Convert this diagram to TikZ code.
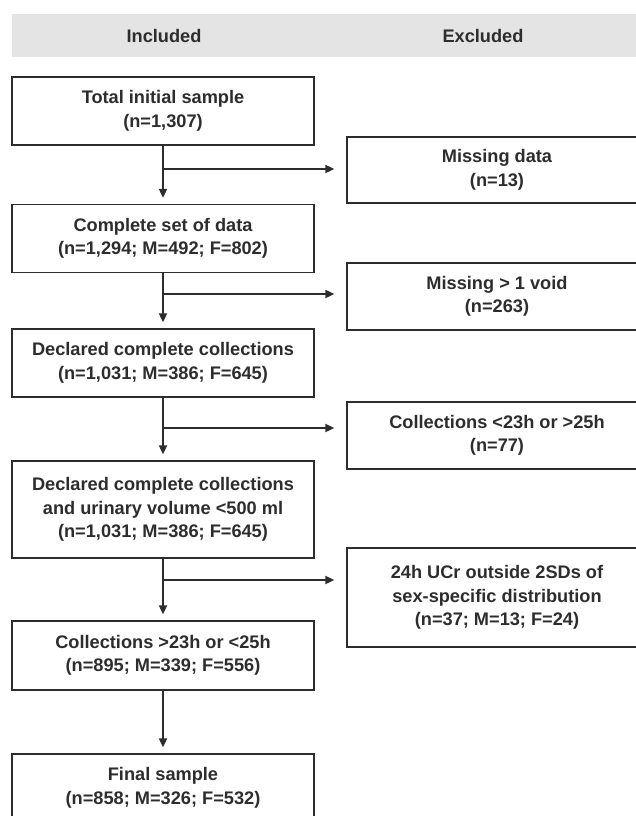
\documentclass[tikz,border=0pt]{standalone}
\usepackage{fontspec}
\setmainfont{Liberation Sans}
\usetikzlibrary{arrows.meta}
\definecolor{ink}{RGB}{45,45,45}
\definecolor{band}{RGB}{228,228,228}
\tikzset{
  box/.style={draw=ink, line width=1.3pt, fill=white, align=center, text=ink,
    font=\bfseries\fontsize{18.2}{23.5}\selectfont, inner sep=0pt},
  lbox/.style={box, minimum width=302pt},
  rbox/.style={box, minimum width=300pt},
  arr/.style={draw=ink, line width=1.8pt, -{Triangle[length=9pt,width=8pt]}},
  hdr/.style={text=ink, font=\bfseries\fontsize{18.2}{22}\selectfont}
}
\begin{document}
\begin{tikzpicture}[x=1pt,y=-1pt]
\useasboundingbox (0,0) rectangle (636,816);
\begin{scope}
\clip (0,0) rectangle (636,816);
\fill[band] (12,14) rectangle (640,57);
\node[hdr] (hin) at (164,36) {Included};
\node[hdr] (hex) at (483,36) {Excluded};

\node[lbox, minimum height=68pt] (b1) at (163,111) {Total initial sample\\(n=1,307)};
\node[lbox, minimum height=68pt] (b2) at (163,238.5) {Complete set of data\\(n=1,294; M=492; F=802)};
\node[lbox, minimum height=68pt] (b3) at (163,363) {Declared complete collections\\(n=1,031; M=386; F=645)};
\node[lbox, minimum height=97pt] (b4) at (163,509.5) {Declared complete collections\\and urinary volume <500 ml\\(n=1,031; M=386; F=645)};
\node[lbox, minimum height=69pt] (b5) at (163,655.5) {Collections >23h or <25h\\(n=895; M=339; F=556)};
\node[lbox, minimum height=68pt] (b6) at (163,788) {Final sample\\(n=858; M=326; F=532)};

\node[rbox, minimum height=66pt] (r1) at (497,170) {Missing data\\(n=13)};
\node[rbox, minimum height=67pt] (r2) at (497,296.5) {Missing > 1 void\\(n=263)};
\node[rbox, minimum height=67pt] (r3) at (497,435.5) {Collections <23h or >25h\\(n=77)};
\node[rbox, minimum height=99pt] (r4) at (497,597.5) {24h UCr outside 2SDs of\\sex-specific distribution\\(n=37; M=13; F=24)};

\draw[arr, shorten >=6pt] (b1) -- (b2);
\draw[arr, shorten >=6pt] (b2) -- (b3);
\draw[arr, shorten >=6pt] (b3) -- (b4);
\draw[arr, shorten >=6pt] (b4) -- (b5);
\draw[arr, shorten >=6pt] (b5) -- (b6);

\coordinate (j1) at (163,169);
\coordinate (j2) at (163,294);
\coordinate (j3) at (163,428);
\coordinate (j4) at (163,580);
\draw[arr, shorten >=12pt] (j1) -- (j1 -| r1.west);
\draw[arr, shorten >=12pt] (j2) -- (j2 -| r2.west);
\draw[arr, shorten >=12pt] (j3) -- (j3 -| r3.west);
\draw[arr, shorten >=12pt] (j4) -- (j4 -| r4.west);
\end{scope}
\end{tikzpicture}
\end{document}
